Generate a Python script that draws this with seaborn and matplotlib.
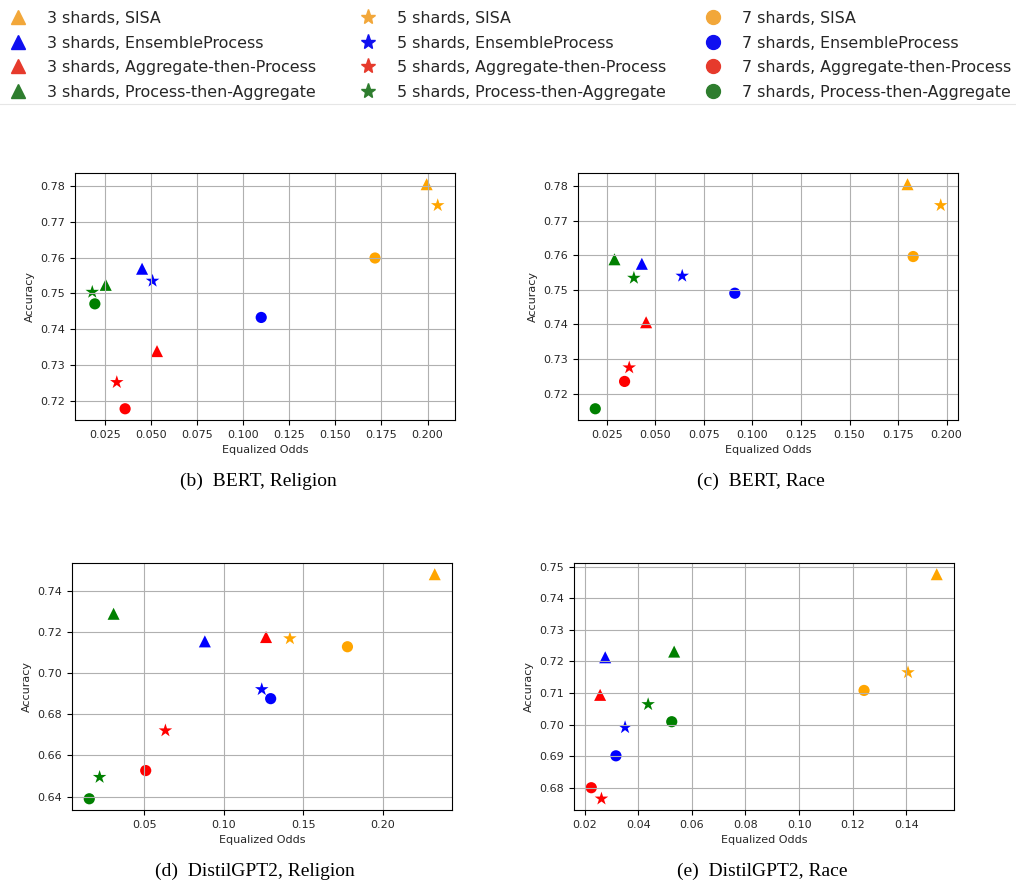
import pandas as pd
import matplotlib
matplotlib.use("Agg")
import matplotlib.pyplot as plt
from matplotlib.lines import Line2D
import seaborn as sns

# methods / shard counts, same order in every panel
methods = ["SISA", "EnsembleProcess", "Aggregate-then-Process", "Process-then-Aggregate"]
shards = [3, 5, 7]

# values per panel, ordered: for each shard count (3, 5, 7) the 4 methods
bert_religion_x = [0.1995, 0.0452, 0.0533, 0.0255,
                   0.2055, 0.0509, 0.0315, 0.0182,
                   0.1715, 0.1098, 0.0360, 0.0196]
bert_religion_y = [0.7805, 0.7569, 0.7339, 0.7524,
                   0.7746, 0.7535, 0.7252, 0.7504,
                   0.7599, 0.7433, 0.7178, 0.7471]

bert_race_x = [0.1799, 0.0430, 0.0452, 0.0289,
               0.1970, 0.0638, 0.0365, 0.0389,
               0.1828, 0.0909, 0.0341, 0.0190]
bert_race_y = [0.7805, 0.7575, 0.7406, 0.7588,
               0.7744, 0.7540, 0.7275, 0.7534,
               0.7596, 0.7490, 0.7235, 0.7156]

gpt_religion_x = [0.2326, 0.0880, 0.1265, 0.0306,
                  0.1415, 0.1238, 0.0632, 0.0218,
                  0.1777, 0.1294, 0.0508, 0.0153]
gpt_religion_y = [0.7479, 0.7153, 0.7174, 0.7287,
                  0.7167, 0.6920, 0.6720, 0.6494,
                  0.7127, 0.6875, 0.6526, 0.6389]

gpt_race_x = [0.1513, 0.0277, 0.0258, 0.0534,
              0.1406, 0.0351, 0.0263, 0.0437,
              0.1242, 0.0317, 0.0225, 0.0525]
gpt_race_y = [0.7476, 0.7213, 0.7094, 0.7231,
              0.7165, 0.6991, 0.6765, 0.7064,
              0.7108, 0.6901, 0.6800, 0.7009]

captions = ["(b)  BERT, Religion", "(c)  BERT, Race",
            "(d)  DistilGPT2, Religion", "(e)  DistilGPT2, Race"]

palette = {"SISA": "orange", "EnsembleProcess": "blue",
           "Aggregate-then-Process": "red", "Process-then-Aggregate": "green"}
legend_colors = {"SISA": "#f2a73a", "EnsembleProcess": "#1010f0",
                 "Aggregate-then-Process": "#e63a2c", "Process-then-Aggregate": "#2e7d2e"}
markers = {3: "^", 5: "*", 7: "o"}
marker_sizes = {3: 75, 5: 105, 7: 65}


def make_df(xs, ys):
    rows = []
    i = 0
    for n in shards:
        for m in methods:
            rows.append({"eo": xs[i], "acc": ys[i], "method": m, "shards": n})
            i += 1
    return pd.DataFrame(rows)


panels = [(bert_religion_x, bert_religion_y),
          (bert_race_x, bert_race_y),
          (gpt_religion_x, gpt_religion_y),
          (gpt_race_x, gpt_race_y)]

W, H = 1016, 883
fig = plt.figure(figsize=(W / 100, H / 100), dpi=100)

# axes boxes in pixels: left, top, right, bottom
boxes = [(75, 173, 455, 420), (578, 173, 958, 420),
         (72, 563, 452, 810), (574, 563, 954, 810)]
cap_pos = [(258, 481), (761, 481), (255, 871), (762, 871)]

for (xs, ys), (l, t, r, b), cap, (cx, cy) in zip(panels, boxes, captions, cap_pos):
    ax = fig.add_axes([l / W, 1 - b / H, (r - l) / W, (b - t) / H])
    df = make_df(xs, ys)
    sns.scatterplot(data=df, x="eo", y="acc", hue="method", style="shards",
                    size="shards", sizes=marker_sizes,
                    palette=palette, markers=markers, linewidth=0,
                    legend=False, ax=ax)
    ax.grid(True, color="#b0b0b0", linewidth=0.8)
    ax.set_xlabel("Equalized Odds", fontsize=8, color="#262626")
    ax.set_ylabel("Accuracy", fontsize=8, color="#262626")
    ax.tick_params(labelsize=8, labelcolor="#262626")
    fig.text(cx / W, 1 - cy / H, cap, ha="center", va="center",
             fontsize=14, family="Liberation Serif")

# legend, one column per shard count
col_x = [10, 360, 705]
for n, x0 in zip(shards, col_x):
    handles = [Line2D([], [], linestyle="none", marker=markers[n],
                      markersize=10 if n != 5 else 11,
                      color=legend_colors[m]) for m in methods]
    labels = [f"{n} shards, {m}" for m in methods]
    fig.legend(handles, labels, loc="upper left", bbox_to_anchor=(x0 / W, 1 - 11 / H),
               frameon=False, fontsize=11.4, labelspacing=0.6, handlelength=1.0,
               handletextpad=1.36, borderaxespad=0, borderpad=0,
               labelcolor="#262626")

fig.add_artist(Line2D([0, 1], [1 - 104 / H, 1 - 104 / H], color="#e6e6e6",
                      linewidth=0.8, transform=fig.transFigure))

fig.savefig("out.png", dpi=100)
